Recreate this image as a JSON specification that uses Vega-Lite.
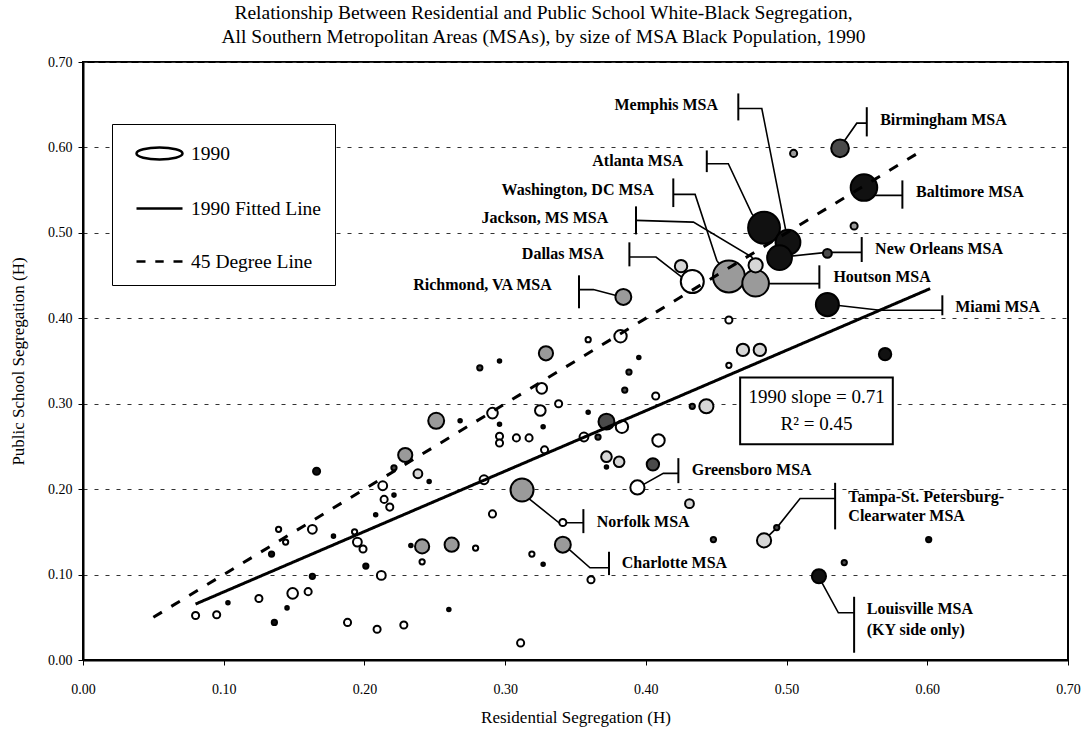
{
 "$schema": "https://vega.github.io/schema/vega-lite/v6.json",
 "width": 985, "height": 598,
 "autosize": {"type": "none"},
 "padding": {"left": 83, "top": 62, "right": 19, "bottom": 80},
 "background": "white",
 "title": {"text": ["Relationship Between Residential and Public School White-Black Segregation,", "All Southern Metropolitan Areas (MSAs), by size of MSA Black Population, 1990"], "font": "Liberation Serif", "fontSize": 19.5, "fontWeight": "normal", "lineHeight": 24, "offset": 8, "anchor": "middle", "dx": -32, "color": "black"},
 "config": {
  "view": {"stroke": "black", "strokeWidth": 2},
  "axis": {"labelFont": "Liberation Serif", "labelFontSize": 14, "labelColor": "black", "titleFont": "Liberation Serif", "titleFontSize": 17, "titleFontWeight": "normal", "titleColor": "black", "domainColor": "black", "domainWidth": 2, "tickColor": "black", "tickSize": 5}
 },
 "datasets": {
  "pts": [
   {"x":0.538,"y":0.599,"pop":250,"shade":"dark"},
   {"x":0.505,"y":0.593,"pop":40,"shade":"gray"},
   {"x":0.555,"y":0.553,"pop":562,"shade":"black"},
   {"x":0.548,"y":0.508,"pop":40,"shade":"gray"},
   {"x":0.484,"y":0.506,"pop":810,"shade":"black"},
   {"x":0.501,"y":0.489,"pop":490,"shade":"black"},
   {"x":0.495,"y":0.471,"pop":490,"shade":"black"},
   {"x":0.529,"y":0.476,"pop":62,"shade":"dark"},
   {"x":0.459,"y":0.449,"pop":810,"shade":"gray"},
   {"x":0.478,"y":0.441,"pop":562,"shade":"gray"},
   {"x":0.478,"y":0.462,"pop":160,"shade":"light"},
   {"x":0.433,"y":0.443,"pop":422,"shade":"white"},
   {"x":0.425,"y":0.461,"pop":122,"shade":"light"},
   {"x":0.384,"y":0.425,"pop":202,"shade":"gray"},
   {"x":0.529,"y":0.416,"pop":422,"shade":"black"},
   {"x":0.459,"y":0.398,"pop":40,"shade":"white"},
   {"x":0.469,"y":0.363,"pop":122,"shade":"light"},
   {"x":0.481,"y":0.363,"pop":122,"shade":"light"},
   {"x":0.459,"y":0.345,"pop":22,"shade":"white"},
   {"x":0.570,"y":0.358,"pop":122,"shade":"black"},
   {"x":0.443,"y":0.297,"pop":160,"shade":"light"},
   {"x":0.433,"y":0.297,"pop":22,"shade":"dark"},
   {"x":0.493,"y":0.155,"pop":22,"shade":"dark"},
   {"x":0.484,"y":0.140,"pop":160,"shade":"light"},
   {"x":0.448,"y":0.141,"pop":22,"shade":"dark"},
   {"x":0.601,"y":0.141,"pop":22,"shade":"black"},
   {"x":0.541,"y":0.114,"pop":22,"shade":"dark"},
   {"x":0.523,"y":0.098,"pop":160,"shade":"black"},
   {"x":0.382,"y":0.379,"pop":122,"shade":"white"},
   {"x":0.359,"y":0.375,"pop":22,"shade":"white"},
   {"x":0.395,"y":0.354,"pop":10,"shade":"black"},
   {"x":0.329,"y":0.359,"pop":160,"shade":"gray"},
   {"x":0.296,"y":0.350,"pop":10,"shade":"black"},
   {"x":0.282,"y":0.342,"pop":22,"shade":"dark"},
   {"x":0.388,"y":0.337,"pop":22,"shade":"dark"},
   {"x":0.326,"y":0.318,"pop":90,"shade":"white"},
   {"x":0.385,"y":0.316,"pop":22,"shade":"dark"},
   {"x":0.407,"y":0.309,"pop":40,"shade":"white"},
   {"x":0.338,"y":0.300,"pop":40,"shade":"white"},
   {"x":0.325,"y":0.292,"pop":90,"shade":"white"},
   {"x":0.291,"y":0.289,"pop":90,"shade":"white"},
   {"x":0.359,"y":0.290,"pop":10,"shade":"black"},
   {"x":0.251,"y":0.280,"pop":202,"shade":"gray"},
   {"x":0.268,"y":0.280,"pop":10,"shade":"black"},
   {"x":0.296,"y":0.276,"pop":10,"shade":"black"},
   {"x":0.327,"y":0.273,"pop":10,"shade":"black"},
   {"x":0.372,"y":0.279,"pop":202,"shade":"dark"},
   {"x":0.383,"y":0.273,"pop":122,"shade":"white"},
   {"x":0.296,"y":0.262,"pop":40,"shade":"white"},
   {"x":0.296,"y":0.254,"pop":40,"shade":"white"},
   {"x":0.308,"y":0.260,"pop":40,"shade":"white"},
   {"x":0.317,"y":0.260,"pop":40,"shade":"white"},
   {"x":0.356,"y":0.261,"pop":62,"shade":"white"},
   {"x":0.366,"y":0.261,"pop":22,"shade":"dark"},
   {"x":0.409,"y":0.257,"pop":122,"shade":"white"},
   {"x":0.328,"y":0.246,"pop":40,"shade":"white"},
   {"x":0.372,"y":0.238,"pop":90,"shade":"light"},
   {"x":0.381,"y":0.232,"pop":90,"shade":"light"},
   {"x":0.372,"y":0.226,"pop":10,"shade":"black"},
   {"x":0.405,"y":0.229,"pop":122,"shade":"dark"},
   {"x":0.394,"y":0.202,"pop":160,"shade":"white"},
   {"x":0.229,"y":0.240,"pop":160,"shade":"gray"},
   {"x":0.238,"y":0.218,"pop":62,"shade":"light"},
   {"x":0.246,"y":0.209,"pop":10,"shade":"black"},
   {"x":0.285,"y":0.211,"pop":62,"shade":"white"},
   {"x":0.312,"y":0.199,"pop":422,"shade":"gray"},
   {"x":0.221,"y":0.225,"pop":22,"shade":"dark"},
   {"x":0.166,"y":0.221,"pop":40,"shade":"black"},
   {"x":0.213,"y":0.204,"pop":62,"shade":"white"},
   {"x":0.221,"y":0.193,"pop":10,"shade":"black"},
   {"x":0.214,"y":0.188,"pop":40,"shade":"white"},
   {"x":0.218,"y":0.179,"pop":40,"shade":"white"},
   {"x":0.208,"y":0.170,"pop":10,"shade":"black"},
   {"x":0.139,"y":0.153,"pop":22,"shade":"white"},
   {"x":0.163,"y":0.153,"pop":62,"shade":"white"},
   {"x":0.193,"y":0.150,"pop":22,"shade":"white"},
   {"x":0.178,"y":0.145,"pop":10,"shade":"black"},
   {"x":0.144,"y":0.138,"pop":22,"shade":"white"},
   {"x":0.195,"y":0.138,"pop":62,"shade":"white"},
   {"x":0.199,"y":0.130,"pop":40,"shade":"white"},
   {"x":0.134,"y":0.124,"pop":22,"shade":"black"},
   {"x":0.233,"y":0.134,"pop":10,"shade":"black"},
   {"x":0.241,"y":0.133,"pop":160,"shade":"gray"},
   {"x":0.201,"y":0.110,"pop":22,"shade":"black"},
   {"x":0.163,"y":0.098,"pop":22,"shade":"black"},
   {"x":0.212,"y":0.099,"pop":62,"shade":"white"},
   {"x":0.103,"y":0.067,"pop":10,"shade":"black"},
   {"x":0.125,"y":0.072,"pop":40,"shade":"white"},
   {"x":0.149,"y":0.078,"pop":90,"shade":"white"},
   {"x":0.160,"y":0.080,"pop":40,"shade":"white"},
   {"x":0.145,"y":0.061,"pop":10,"shade":"black"},
   {"x":0.136,"y":0.044,"pop":22,"shade":"black"},
   {"x":0.080,"y":0.052,"pop":40,"shade":"white"},
   {"x":0.095,"y":0.053,"pop":40,"shade":"white"},
   {"x":0.188,"y":0.044,"pop":40,"shade":"white"},
   {"x":0.209,"y":0.036,"pop":40,"shade":"white"},
   {"x":0.228,"y":0.041,"pop":40,"shade":"white"},
   {"x":0.260,"y":0.059,"pop":10,"shade":"black"},
   {"x":0.311,"y":0.020,"pop":40,"shade":"white"},
   {"x":0.291,"y":0.171,"pop":40,"shade":"white"},
   {"x":0.241,"y":0.115,"pop":22,"shade":"white"},
   {"x":0.262,"y":0.135,"pop":160,"shade":"gray"},
   {"x":0.279,"y":0.131,"pop":22,"shade":"white"},
   {"x":0.319,"y":0.124,"pop":22,"shade":"white"},
   {"x":0.327,"y":0.112,"pop":10,"shade":"black"},
   {"x":0.341,"y":0.161,"pop":40,"shade":"white"},
   {"x":0.341,"y":0.135,"pop":202,"shade":"gray"},
   {"x":0.361,"y":0.094,"pop":40,"shade":"white"},
   {"x":0.431,"y":0.183,"pop":62,"shade":"light"}
  ],
  "lines": [
   {"series":"1990 Fitted Line","x":0.08,"y":0.0655},
   {"series":"1990 Fitted Line","x":0.602,"y":0.4347},
   {"series":"45 Degree Line","x":0.05,"y":0.05},
   {"series":"45 Degree Line","x":0.595,"y":0.595}
  ],
  "leaders": [
   {"id":"mem","k":1,"x":0.4657,"y":0.6456},{"id":"mem","k":2,"x":0.4824,"y":0.6456},{"id":"mem","k":3,"x":0.5011,"y":0.4889},
   {"id":"atl","k":1,"x":0.4433,"y":0.5809},{"id":"atl","k":2,"x":0.4586,"y":0.5809},{"id":"atl","k":3,"x":0.4753,"y":0.5225},{"id":"atl","k":4,"x":0.4833,"y":0.5064},
   {"id":"was","k":1,"x":0.4195,"y":0.545},{"id":"was","k":2,"x":0.435,"y":0.545},{"id":"was","k":3,"x":0.4504,"y":0.4678},{"id":"was","k":4,"x":0.4584,"y":0.4491},
   {"id":"jac","k":1,"x":0.393,"y":0.5146},{"id":"jac","k":2,"x":0.4338,"y":0.5126},{"id":"jac","k":3,"x":0.4753,"y":0.4717},{"id":"jac","k":4,"x":0.4783,"y":0.462},
   {"id":"dal","k":1,"x":0.3883,"y":0.4717},{"id":"dal","k":2,"x":0.4072,"y":0.4717},{"id":"dal","k":3,"x":0.4255,"y":0.4483},{"id":"dal","k":4,"x":0.4326,"y":0.4425},
   {"id":"ric","k":1,"x":0.3525,"y":0.4336},{"id":"ric","k":2,"x":0.3627,"y":0.4336},{"id":"ric","k":3,"x":0.3836,"y":0.4246},
   {"id":"bir","k":1,"x":0.5373,"y":0.5988},{"id":"bir","k":2,"x":0.5499,"y":0.6284},{"id":"bir","k":3,"x":0.557,"y":0.6284},
   {"id":"bal","k":1,"x":0.5553,"y":0.5529},{"id":"bal","k":2,"x":0.5617,"y":0.5439},{"id":"bal","k":3,"x":0.5823,"y":0.5439},
   {"id":"neo","k":1,"x":0.4947,"y":0.4713},{"id":"neo","k":2,"x":0.5286,"y":0.4772},{"id":"neo","k":3,"x":0.5534,"y":0.4772},
   {"id":"hou","k":1,"x":0.4776,"y":0.4409},{"id":"hou","k":2,"x":0.4895,"y":0.4406},{"id":"hou","k":3,"x":0.5233,"y":0.4406},
   {"id":"mia","k":1,"x":0.5293,"y":0.4164},{"id":"mia","k":2,"x":0.5665,"y":0.4094},{"id":"mia","k":3,"x":0.6107,"y":0.4094},
   {"id":"gre","k":1,"x":0.394,"y":0.2015},{"id":"gre","k":2,"x":0.4124,"y":0.2184},{"id":"gre","k":3,"x":0.4231,"y":0.2184},
   {"id":"nor","k":1,"x":0.3118,"y":0.1957},{"id":"nor","k":2,"x":0.3383,"y":0.1606},{"id":"nor","k":3,"x":0.3556,"y":0.1606},
   {"id":"cha","k":1,"x":0.3414,"y":0.1353},{"id":"cha","k":2,"x":0.3603,"y":0.108},{"id":"cha","k":3,"x":0.3738,"y":0.108},
   {"id":"tam","k":1,"x":0.4835,"y":0.1395},{"id":"tam","k":2,"x":0.493,"y":0.1547},{"id":"tam","k":3,"x":0.5096,"y":0.1891},{"id":"tam","k":4,"x":0.5345,"y":0.1891},
   {"id":"lou","k":1,"x":0.5226,"y":0.0982},{"id":"lou","k":2,"x":0.5368,"y":0.0553},{"id":"lou","k":3,"x":0.548,"y":0.0553}
  ],
  "bars": [
   {"id":"mem","x":0.4657,"y":0.6632,"y2":0.6316},
   {"id":"atl","x":0.4433,"y":0.5965,"y2":0.5711},
   {"id":"was","x":0.4195,"y":0.5637,"y2":0.5302},
   {"id":"jac","x":0.393,"y":0.531,"y2":0.4982},
   {"id":"dal","x":0.3883,"y":0.4889,"y2":0.4608},
   {"id":"ric","x":0.3525,"y":0.4503,"y2":0.4117},
   {"id":"bir","x":0.557,"y":0.6471,"y2":0.6129},
   {"id":"bal","x":0.5823,"y":0.5614,"y2":0.5283},
   {"id":"neo","x":0.5534,"y":0.4951,"y2":0.4659},
   {"id":"hou","x":0.5233,"y":0.462,"y2":0.4347},
   {"id":"mia","x":0.6107,"y":0.4269,"y2":0.4035},
   {"id":"gre","x":0.4231,"y":0.2363,"y2":0.207},
   {"id":"nor","x":0.3556,"y":0.1766,"y2":0.1485},
   {"id":"cha","x":0.3738,"y":0.1267,"y2":0.0994},
   {"id":"tam","x":0.5345,"y":0.2074,"y2":0.1529},
   {"id":"lou","x":0.548,"y":0.074,"y2":0.0085}
  ],
  "labels": [
   {"text":"Memphis MSA","x":0.4513,"y":0.6491,"side":"right"},
   {"text":"Atlanta MSA","x":0.4267,"y":0.5836,"side":"right"},
   {"text":"Washington, DC MSA","x":0.4058,"y":0.5505,"side":"right"},
   {"text":"Jackson, MS MSA","x":0.3733,"y":0.5178,"side":"right"},
   {"text":"Dallas MSA","x":0.3703,"y":0.4757,"side":"right"},
   {"text":"Richmond, VA MSA","x":0.3331,"y":0.4386,"side":"right"},
   {"text":"Birmingham MSA","x":0.5665,"y":0.6316,"side":"left"},
   {"text":"Baltimore MSA","x":0.592,"y":0.5477,"side":"left"},
   {"text":"New Orleans MSA","x":0.5629,"y":0.4815,"side":"left"},
   {"text":"Houtson MSA","x":0.5333,"y":0.4483,"side":"left"},
   {"text":"Miami MSA","x":0.6198,"y":0.4132,"side":"left"},
   {"text":"Greensboro MSA","x":0.4326,"y":0.2222,"side":"left"},
   {"text":"Norfolk MSA","x":0.3651,"y":0.1618,"side":"left"},
   {"text":"Charlotte MSA","x":0.3829,"y":0.1131,"side":"left"},
   {"text":"Tampa-St. Petersburg-","x":0.5439,"y":0.191,"side":"left"},
   {"text":"Clearwater MSA","x":0.5439,"y":0.1684,"side":"left"},
   {"text":"Louisville MSA","x":0.557,"y":0.0593,"side":"left"},
   {"text":"(KY side only)","x":0.557,"y":0.0351,"side":"left"}
  ],
  "box": [{"x":0.467,"x2":0.5755,"y":0.2526,"y2":0.3306}],
  "boxtext": [
   {"text":"1990 slope = 0.71","x":0.5213,"y":0.3073},
   {"text":"R² = 0.45","x":0.5213,"y":0.276}
  ]
 },
 "encoding": {
  "x": {"field": "x", "type": "quantitative", "scale": {"domain": [0, 0.7], "nice": false, "zero": false},
        "axis": {"title": "Residential Segregation (H)", "values": [0,0.1,0.2,0.3,0.4,0.5,0.6,0.7], "format": ".2f", "grid": false, "labelFlush": false, "labelPadding": 17, "titlePadding": 13}},
  "y": {"field": "y", "type": "quantitative", "scale": {"domain": [0, 0.7], "nice": false, "zero": false},
        "axis": {"title": "Public School Segregation (H)", "values": [0,0.1,0.2,0.3,0.4,0.5,0.6,0.7], "format": ".2f", "grid": true, "gridDash": [4, 7], "gridColor": "#333", "gridWidth": 1, "labelFlush": false, "labelPadding": 6, "titlePadding": 20}}
 },
 "layer": [
  {"data": {"name": "leaders"}, "mark": {"type": "line", "color": "black", "strokeWidth": 1.6},
   "encoding": {"detail": {"field": "id"}, "order": {"field": "k", "type": "quantitative"}}},
  {"data": {"name": "pts"}, "mark": {"type": "point", "filled": true, "stroke": "black", "strokeWidth": 2, "opacity": 1},
   "encoding": {
    "size": {"field": "pop", "type": "quantitative", "scale": {"type": "linear", "domain": [0, 1000], "range": [0, 1257]}, "legend": null},
    "fill": {"field": "shade", "type": "nominal", "scale": {"domain": ["white", "light", "gray", "dark", "black"], "range": ["#ffffff", "#d6d6d6", "#9a9a9a", "#4a4a4a", "#111111"]}, "legend": null},
    "order": {"field": "pop", "sort": "descending"}
   }},
  {"data": {"name": "lines"}, "mark": {"type": "line", "color": "black", "strokeWidth": 3},
   "encoding": {"detail": {"field": "series"},
    "strokeDash": {"field": "series", "type": "nominal", "scale": {"domain": ["1990 Fitted Line", "45 Degree Line"], "range": [[1, 0], [10, 11]]}, "legend": null}}},
  {"data": {"name": "lines"}, "mark": {"type": "point", "filled": false, "stroke": "black", "strokeWidth": 2.5, "size": 0},
   "encoding": {
    "shape": {"field": "series", "type": "nominal",
     "scale": {"domain": ["1990", "1990 Fitted Line", "45 Degree Line"], "range": ["M-1.643,0A1.643,0.43 0 1,0 1.643,0A1.643,0.43 0 1,0 -1.643,0Z", "M-1.643,0H1.643", "M-1.643,0H-1.0M-0.3,0H0.3M1.0,0H1.643"]},
     "legend": {"title": null, "orient": "none", "legendX": 29, "legendY": 62, "padding": 14, "symbolOffset": 18, "symbolSize": 784, "rowPadding": 28, "labelOffset": 16,
      "labelFont": "Liberation Serif", "labelFontSize": 19.5, "labelColor": "black", "fillColor": "white", "strokeColor": "black",
      "symbolStrokeWidth": 2.5, "symbolStrokeColor": "black", "symbolFillColor": "white", "symbolOpacity": 1,
      "encode": {"legend": {"update": {"strokeWidth": {"value": 2}}},
                 "symbols": {"update": {"opacity": {"value": 1}, "size": {"value": 784}, "fill": {"value": "white"}, "fillOpacity": {"value": 1}, "stroke": {"value": "black"}, "strokeOpacity": {"value": 1}, "strokeWidth": {"value": 2.5}}}}}
    }
   }},
  {"data": {"name": "bars"}, "mark": {"type": "rule", "color": "black", "strokeWidth": 2},
   "encoding": {"y2": {"field": "y2"}}},
  {"data": {"name": "labels"}, "transform": [{"filter": "datum.side === 'right'"}],
   "mark": {"type": "text", "align": "right", "baseline": "middle", "font": "Liberation Serif", "fontSize": 16, "fontWeight": "bold", "color": "black"},
   "encoding": {"text": {"field": "text"}}},
  {"data": {"name": "labels"}, "transform": [{"filter": "datum.side === 'left'"}],
   "mark": {"type": "text", "align": "left", "baseline": "middle", "font": "Liberation Serif", "fontSize": 16, "fontWeight": "bold", "color": "black"},
   "encoding": {"text": {"field": "text"}}},
  {"data": {"name": "box"}, "mark": {"type": "rect", "fill": "white", "stroke": "black", "strokeWidth": 2},
   "encoding": {"x2": {"field": "x2"}, "y2": {"field": "y2"}}},
  {"data": {"name": "boxtext"}, "mark": {"type": "text", "align": "center", "baseline": "middle", "font": "Liberation Serif", "fontSize": 19, "color": "black"},
   "encoding": {"text": {"field": "text"}}}
 ]
}
